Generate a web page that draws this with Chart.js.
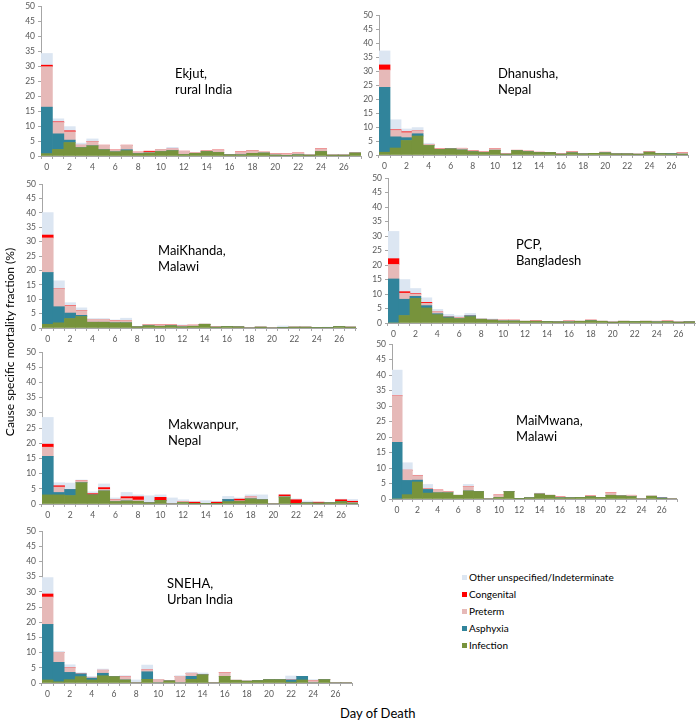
<!DOCTYPE html>
<html>
<head>
<meta charset="utf-8">
<script src="https://cdn.jsdelivr.net/npm/chart.js@4.4.1/dist/chart.umd.min.js"></script>
<style>
  html, body { margin: 0; padding: 0; background: #fff; }
  body { width: 700px; height: 722px; position: relative; overflow: hidden; font-family: Lato, sans-serif; }
  canvas { position: absolute; }
  .site { position: absolute; font-size: 13px; line-height: 16px; color: #000; white-space: nowrap; }
  .ytitle { position: absolute; width: 300px; text-align: center; font-size: 12px; line-height: 14px;
            transform: rotate(-90deg); transform-origin: center center; white-space: nowrap; }
  .xtitle { position: absolute; font-size: 13px; line-height: 16px; white-space: nowrap; }
  .legend { position: absolute; left: 462px; top: 570px; font-size: 10px; color: #000; }
  .legend div { height: 17px; line-height: 14px; white-space: nowrap; }
  .legend span { display: inline-block; width: 5px; height: 5px; margin-right: 2px; vertical-align: 1px; }
</style>
</head>
<body>
<script>
// 日 0-27
const days = ['0','1','2','3','4','5','6','7','8','9','10','11','12','13',
              '14','15','16','17','18','19','20','21','22','23','24','25','26','27'];

// 堆叠顺序：从下到上
const causes = ['Infection', 'Asphyxia', 'Preterm', 'Congenital', 'Other unspecified/Indeterminate'];
const causeColors = ['#77933C', '#31849B', '#E6B9B8', '#FF0000', '#DCE6F2'];

// Ekjut, rural India
const ekjutInfection  = [0.8,2.2,4.5,2.8,3.4,2.1,1.4,1.8,0.8,1.0,1.5,1.8,0.5,0.9,1.5,1.2,0.4,0.4,0.9,1.0,0.3,0.2,0.4,0.3,1.5,0.3,0.3,1.0];
const ekjutAsphyxia   = [15.5,5.2,0.8,0,0,0,0,0.3,0,0,0,0,0,0,0,0,0,0,0,0,0,0,0,0,0,0,0,0];
const ekjutPreterm    = [13.5,3.8,2.8,0.8,1.4,1.5,0.6,1.5,0.5,0.3,0.7,0.5,1.1,0.3,0.2,0.8,0,1.0,0.9,0.3,0.5,0.5,0.6,0,0.9,0,0,0];
const ekjutCongenital = [0.5,0.2,0.3,0,0,0,0,0,0,0.3,0,0,0,0,0,0,0,0,0,0,0,0,0,0,0,0,0,0];
const ekjutOther      = [3.9,1.0,1.4,0.7,0.9,0,0,0,0,0,0,0.6,0,0,0,0,0,0,0,0,0,0,0,0,0,0,0,0];

// Dhanusha, Nepal
const dhanushaInfection  = [1.0,2.5,5.2,6.8,3.4,2.0,2.2,1.8,1.2,0.9,1.7,0.3,1.6,1.2,0.9,0.9,0.3,0.8,0.4,0.6,0.8,0.4,0.4,0.3,1.0,0.5,0.4,0.3];
const dhanushaAsphyxia   = [23.2,4.0,1.0,0.8,0,0,0,0,0,0,0,0,0,0,0,0,0,0,0,0,0,0,0,0,0,0,0.1,0];
const dhanushaPreterm    = [6.2,2.3,1.8,1.0,0.4,0.2,0,0.6,0.3,0.2,0.5,0.2,0.1,0.2,0.1,0,0.2,0.4,0.1,0,0.2,0,0,0,0.2,0,0,0.5];
const dhanushaCongenital = [1.8,0.2,0.3,0,0,0,0,0,0,0,0,0,0,0,0,0,0,0,0,0,0,0,0,0,0,0,0,0];
const dhanushaOther      = [5.0,3.6,1.0,1.2,0.4,0,0,0,0,0,0,0,0,0,0,0,0,0,0,0,0,0,0,0,0,0,0,0];

// MaiKhanda, Malawi
const maikhandaInfection  = [1.3,1.8,3.3,4.0,2.0,2.0,1.8,1.8,0.4,0.8,0.6,0.8,0.4,0.6,1.3,0.3,0.5,0.4,0,0.3,0,0.2,0.3,0.3,0.2,0.2,0.5,0.3];
const maikhandaAsphyxia   = [18.0,5.6,1.9,0.4,0,0,0,0,0,0,0,0,0,0,0,0,0,0,0,0,0,0,0,0,0,0,0,0];
const maikhandaPreterm    = [12.0,6.2,2.5,1.6,1.0,1.0,0.7,0.8,0,0.4,0.5,0.3,0.3,0.4,0,0.2,0,0,0,0,0,0,0,0,0,0,0,0];
const maikhandaCongenital = [1.0,0,0.1,0,0,0,0,0,0,0,0,0,0,0,0,0,0,0,0,0,0,0,0,0,0,0,0,0];
const maikhandaOther      = [7.8,2.8,1.0,1.0,0.3,0.3,0.3,0.8,0.1,0,0,0,0.4,0,0,0,0,0,0,0,0,0.5,0,0,0,0.1,0,0];

// PCP, Bangladesh
const pcpInfection  = [0,2.6,8.5,5.2,2.9,1.8,1.5,2.2,1.3,1.0,0.7,0.7,0.6,0.6,0.5,0.4,0.4,0.6,0.8,0.6,0.3,0.6,0.5,0.6,0.4,0.5,0.3,0.4];
const pcpAsphyxia   = [15.2,5.6,0.7,0.8,0.3,0.3,0,0.3,0,0,0,0,0,0,0,0,0,0,0,0,0,0,0,0,0,0,0,0];
const pcpPreterm    = [5.0,2.1,0.7,0.8,0.6,0,0.4,0,0,0,0.3,0.3,0,0.2,0,0,0.3,0,0.2,0,0,0,0,0,0.2,0.2,0,0];
const pcpCongenital = [2.0,0.5,0.2,0.3,0,0,0,0,0,0,0,0,0,0,0,0,0,0,0,0,0,0,0,0,0,0,0,0];
const pcpOther      = [9.4,4.2,1.8,1.6,0.9,0.9,0.6,0.8,0.2,0.4,0,0,0,0,0,0,0,0,0,0,0,0,0,0,0,0,0,0];

// Makwanpur, Nepal
const makwanpurInfection  = [3.0,3.0,2.8,7.0,3.0,4.3,0.8,1.0,0.9,0.4,1.2,0,0.5,0.1,0.2,0.1,0.8,0.9,1.7,1.4,0,2.3,0.2,0.4,0.3,0.4,0.8,0.3];
const makwanpurAsphyxia   = [12.7,0.8,2.0,0,0,0,0,0,0,0,0,0,0,0,0,0,0.7,0,0,0,0,0,0,0,0,0,0,0];
const makwanpurPreterm    = [3.0,1.8,0,0.6,0,0.5,0.6,0.8,0.4,0,0,0,0.3,0,0,0,0,0.2,0.6,0,0,0.2,0,0,0,0,0,0.2];
const makwanpurCongenital = [1.0,0.4,0,0,0.4,0.6,0,0.6,1.1,0,1.0,0,0,0.5,0,0.5,0,0.5,0,0,0,0.5,1.2,0,0.3,0,0.6,0.4];
const makwanpurOther      = [8.8,1.0,2.1,0.3,0.6,1.2,0.6,1.4,0.6,2.3,0.8,2.0,0.6,0.3,0.9,0.3,1.0,0.4,0.7,1.6,0,0.1,0.3,0.6,0,0,0.2,0.6];

// MaiMwana, Malawi
const maimwanaInfection  = [0,1.4,5.5,1.9,2.0,2.0,1.2,2.6,2.4,0,0.5,2.4,0.2,0.4,1.6,1.2,0.4,0.4,0.5,0.8,0.5,1.2,1.0,0.8,0,0.9,0.2,0];
const maimwanaAsphyxia   = [18.3,4.6,0.6,1.2,0,0,0,0,0,0,0,0,0,0,0,0,0,0,0,0,0,0,0,0,0,0,0.2,0];
const maimwanaPreterm    = [15.0,3.3,1.4,0.2,0.9,0.4,0,1.4,0,0,0.8,0,0,0,0,0,0.3,0,0,0.2,0,0.8,0,0.4,0,0,0,0];
const maimwanaCongenital = [0,0,0,0,0,0,0,0,0,0,0,0,0,0,0,0,0,0,0,0,0,0,0,0,0,0,0,0];
const maimwanaOther      = [8.3,2.4,0.2,1.4,0,0,0,0.7,0,0,0,0,0,0,0.3,0,0,0,0,0,0,0,0,0,0,0,0,0];

// SNEHA, Urban India
const snehaInfection  = [1.0,0.4,1.1,2.1,1.0,2.4,2.1,1.0,0,1.2,0,0.7,0,1.2,2.7,0,2.2,0.9,0.6,0.8,1.1,1.1,0.3,1.0,0,1.1,0,0];
const snehaAsphyxia   = [18.3,6.4,2.4,0.9,0.6,0.8,0,0,0,2.5,0,0,0,1.0,0,0,0,0,0,0,0,0,0.7,1.2,0,0,0,0];
const snehaPreterm    = [9.0,3.3,1.5,0,0,1.0,0,1.0,0,0.6,1.2,0,2.2,1.0,0,0,1.2,0,0,0,0,0,0,0,0.8,0,0,0];
const snehaCongenital = [1.0,0,0,0,0,0,0,0,0,0,0,0,0,0,0,0,0,0,0,0,0,0,0,0,0,0,0,0];
const snehaOther      = [5.4,0.3,1.0,0.4,0.6,0.4,0,0.4,1.0,1.6,0,0,0.2,0.3,0.6,0,0,0,0.2,0,0,0,1.3,0,0.3,0,0,0];

// 每个小图的绘图区位置（像素）
const panels = [
  { title: ['Ekjut,', 'rural India'], tx: 175, ty: 65, left: 41, right: 361, top: 5, bottom: 156,
    data: [ekjutInfection, ekjutAsphyxia, ekjutPreterm, ekjutCongenital, ekjutOther] },
  { title: ['Dhanusha,', 'Nepal'], tx: 498, ty: 65, left: 379, right: 688, top: 14, bottom: 155,
    data: [dhanushaInfection, dhanushaAsphyxia, dhanushaPreterm, dhanushaCongenital, dhanushaOther] },
  { title: ['MaiKhanda,', 'Malawi'], tx: 158, ty: 242, left: 42, right: 356, top: 183, bottom: 328,
    data: [maikhandaInfection, maikhandaAsphyxia, maikhandaPreterm, maikhandaCongenital, maikhandaOther] },
  { title: ['PCP,', 'Bangladesh'], tx: 516, ty: 236, left: 388, right: 695, top: 177, bottom: 323,
    data: [pcpInfection, pcpAsphyxia, pcpPreterm, pcpCongenital, pcpOther] },
  { title: ['Makwanpur,', 'Nepal'], tx: 168, ty: 416, left: 42, right: 358, top: 351, bottom: 504,
    data: [makwanpurInfection, makwanpurAsphyxia, makwanpurPreterm, makwanpurCongenital, makwanpurOther] },
  { title: ['MaiMwana,', 'Malawi'], tx: 516, ty: 412, left: 392, right: 677, top: 343, bottom: 499,
    data: [maimwanaInfection, maimwanaAsphyxia, maimwanaPreterm, maimwanaCongenital, maimwanaOther] },
  { title: ['SNEHA,', 'Urban India'], tx: 167, ty: 575, left: 42, right: 352, top: 530, bottom: 683,
    data: [snehaInfection, snehaAsphyxia, snehaPreterm, snehaCongenital, snehaOther] }
];

Chart.defaults.font.family = "Lato, 'DejaVu Sans', sans-serif";
Chart.defaults.color = '#595959';

const axisColor = '#A6A6A6';
const tickFont = { size: 8.5 };

function makePanel(p) {
  const yw = 30, xh = 20, padT = 7, padR = 5;
  const canvas = document.createElement('canvas');
  canvas.width = yw + (p.right - p.left) + padR;
  canvas.height = padT + (p.bottom - p.top) + xh;
  canvas.style.left = (p.left - yw) + 'px';
  canvas.style.top = (p.top - padT) + 'px';
  document.body.appendChild(canvas);

  new Chart(canvas, {
    type: 'bar',
    data: {
      labels: days,
      datasets: causes.map((name, k) => ({
        label: name,
        data: p.data[k],
        backgroundColor: causeColors[k],
        borderWidth: 0,
        categoryPercentage: 1,
        barPercentage: 1
      }))
    },
    options: {
      responsive: false,
      animation: false,
      layout: { padding: { top: padT, right: padR, left: 0, bottom: 0 } },
      plugins: { legend: { display: false }, tooltip: { enabled: false } },
      scales: {
        x: {
          stacked: true,
          afterFit: s => { s.height = xh; },
          grid: { drawOnChartArea: false, drawTicks: true, tickLength: 3, color: axisColor, offset: true },
          border: { color: axisColor },
          ticks: {
            autoSkip: false, maxRotation: 0, padding: 3, font: tickFont,
            callback: (v, i) => (i % 2 === 0 ? days[i] : '')
          }
        },
        y: {
          stacked: true,
          min: 0, max: 50,
          afterFit: s => { s.width = yw; },
          grid: { drawOnChartArea: false, drawTicks: true, tickLength: 3, color: axisColor },
          border: { color: axisColor },
          ticks: { stepSize: 5, padding: 3, font: tickFont }
        }
      }
    }
  });

  const t = document.createElement('div');
  t.className = 'site';
  t.style.left = p.tx + 'px';
  t.style.top = p.ty + 'px';
  t.innerHTML = p.title.join('<br>');
  document.body.appendChild(t);
}

panels.forEach(makePanel);

// 坐标轴标题
const yTitle = document.createElement('div');
yTitle.className = 'ytitle';
yTitle.textContent = 'Cause specific mortality fraction (%)';
yTitle.style.left = (10 - 150) + 'px';
yTitle.style.top = (342 - 7) + 'px';
document.body.appendChild(yTitle);

const xTitle = document.createElement('div');
xTitle.className = 'xtitle';
xTitle.textContent = 'Day of Death';
xTitle.style.left = '340px';
xTitle.style.top = '705px';
document.body.appendChild(xTitle);

// 图例（从上到下与堆叠顺序相反）
const legend = document.createElement('div');
legend.className = 'legend';
for (let k = causes.length - 1; k >= 0; k--) {
  const row = document.createElement('div');
  const sw = document.createElement('span');
  sw.style.background = causeColors[k];
  row.appendChild(sw);
  row.appendChild(document.createTextNode(causes[k]));
  legend.appendChild(row);
}
document.body.appendChild(legend);
</script>
</body>
</html>
